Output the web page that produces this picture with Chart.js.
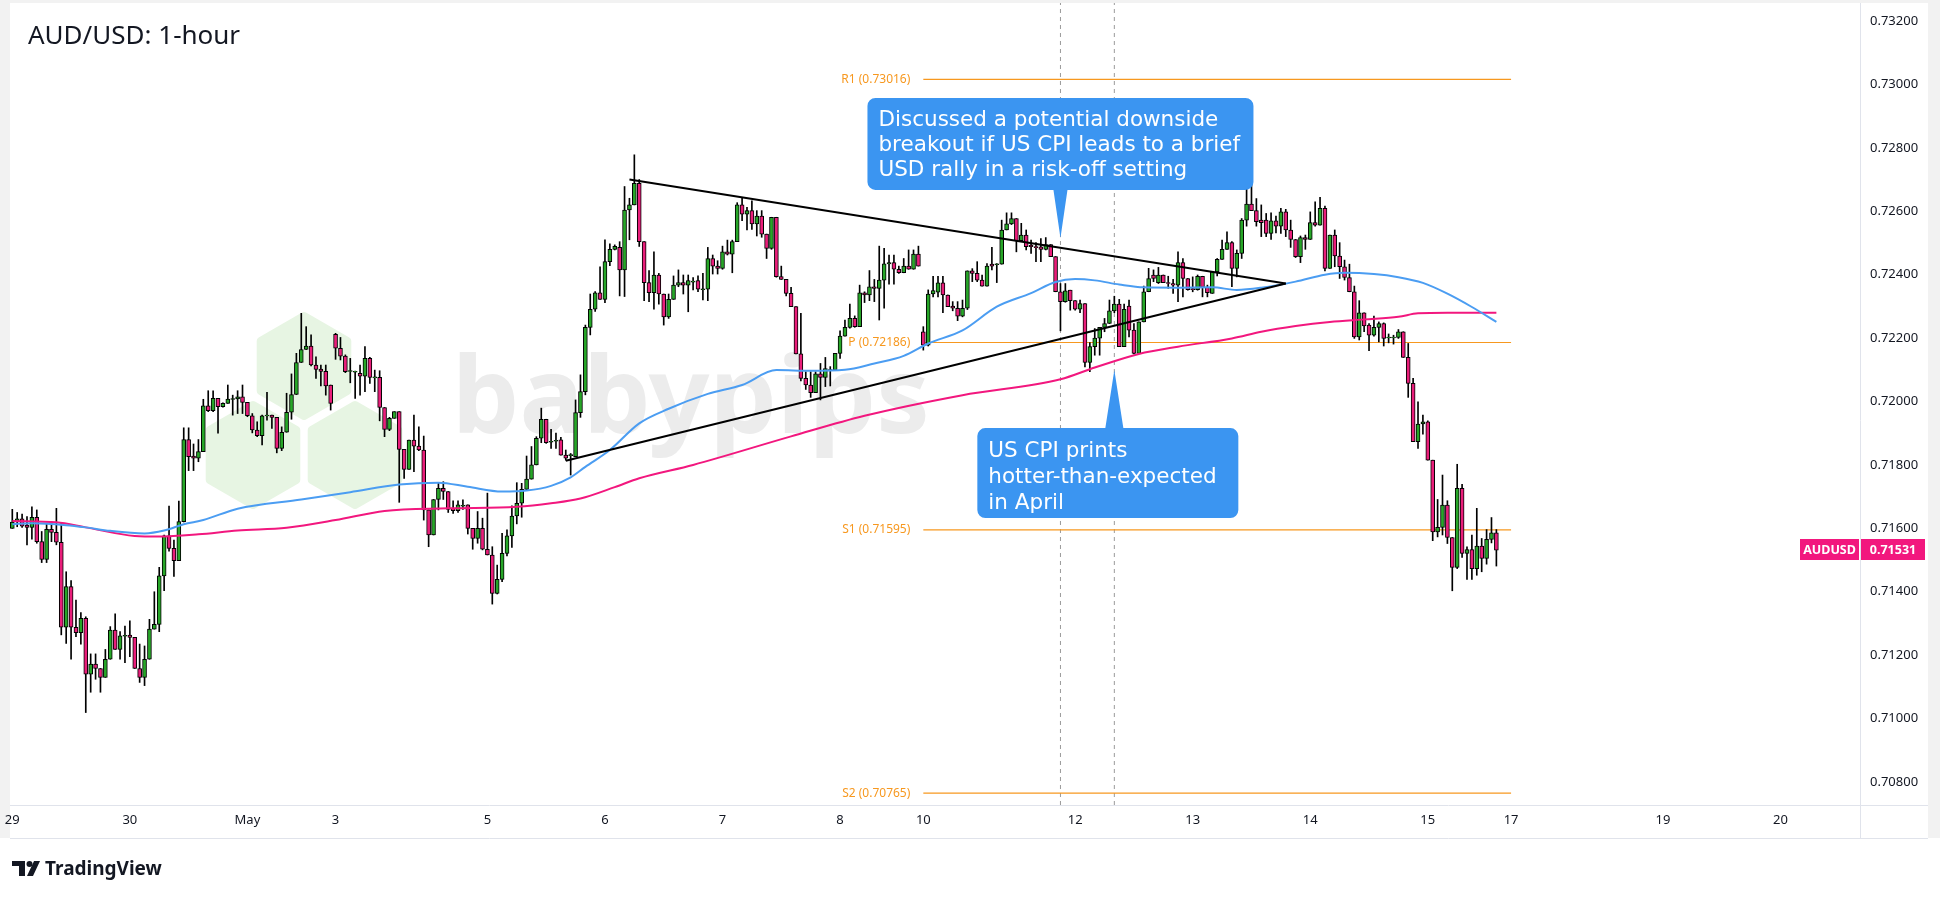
<!DOCTYPE html>
<html>
<head>
<meta charset="utf-8">
<title>AUD/USD: 1-hour</title>
<script src="https://cdn.jsdelivr.net/npm/chart.js@4.4.1/dist/chart.umd.min.js"></script>
<style>
  html, body { margin: 0; padding: 0; background: #fff; }
  #wrap { width: 1940px; height: 898px; }
</style>
</head>
<body>
<div id="wrap"><canvas id="chart" width="1940" height="898"></canvas></div>
<script>
// prices are written in pips (x 0.0001)
const PIP = 0.0001;

const opens = [
  7160,7162,7163,7161,7160.3,7163.5,7155.8,7150.2,7159.7,7158.7,
  7155.6,7128.8,7141.6,7128.8,7127.1,7131.6,7114,7117.2,7115.8,7113,
  7118.7,7127.9,7121.8,7126.1,7126.3,7125.6,7115.8,7113,7118.7,7128.2,
  7129.7,7145,7157.6,7153.7,7149.8,7162.1,7188,7182.8,7182.1,7184.2,
  7198.6,7197.1,7201,7198.4,7199.4,7200.8,7200.8,7201.5,7199.7,7195.5,
  7191,7189.2,7195.5,7195.7,7195,7185.2,7190.3,7196.6,7202.2,7212.3,
  7216.4,7217.5,7211.5,7210.2,7209.5,7205.2,7221.2,7216.8,7214.3,7209.6,
  7209.4,7208.9,7208,7213.6,7207.6,7207.6,7198.1,7191.2,7194.7,7196.8,
  7184.9,7178.6,7187.8,7185.9,7184.7,7165.8,7157.9,7169.1,7172.6,7171.6,
  7166.3,7165.6,7167.1,7167.4,7160,7156.8,7160,7153.4,7151.6,7139.5,
  7143.9,7152.1,7157.6,7163.9,7167.9,7172.3,7175.5,7180,7188.4,7194.4,
  7187.3,7187.6,7187.9,7183.1,7183.1,7182.6,7196.5,7203.1,7223.4,7229.1,
  7234.3,7232.2,7244.1,7248,7248.6,7241.5,7260.4,7262,7268.8,7250.4,
  7237.5,7234.3,7239.9,7233.9,7226.7,7232.2,7236.7,7237.5,7236.7,7237.8,
  7238.1,7235.4,7235.4,7245.1,7242.7,7242,7247.2,7246.5,7250.4,7262,
  7259.1,7260.2,7256,7258.5,7252.8,7248.3,7258.1,7239.4,7238.5,7234.1,
  7229.9,7215,7207.3,7205.2,7202.8,7208.7,7207.6,7209.9,7209.9,7215.2,
  7220.6,7223.4,7226.2,7223.6,7234.3,7233.6,7236.2,7235.7,7238.3,7243.4,
  7243.8,7241.7,7240.6,7242.7,7241.7,7246.5,7222,7217.8,7233.9,7234.5,
  7237.4,7233.6,7230.1,7229.4,7226.9,7229.4,7241.2,7240.4,7238.3,7236.4,
  7243.3,7243.3,7243.3,7254.1,7256,7257.7,7250.7,7252.5,7249.3,7248.8,
  7248.8,7248,7249.5,7245.7,7234.6,7231.5,7235.1,7231.8,7229.1,7230.9,
  7212.3,7217.3,7220,7223.4,7224.6,7228.6,7230.7,7217.3,7230.1,7222.5,
  7215.2,7225.1,7234.6,7239.9,7237.5,7239.9,7237.5,7237.2,7236.7,7243.8,
  7238.8,7235.6,7235.3,7239.5,7236,7234.1,7240.9,7244.8,7248,7250.1,
  7242,7246.7,7257.2,7262.3,7260.2,7257.2,7257.2,7253,7257,7255.3,
  7259.8,7254.1,7251.1,7245.7,7251.7,7251.1,7256.4,7255.6,7260.9,7242,
  7252.5,7245.9,7242.5,7239.1,7234.6,7220.4,7228,7224.1,7220.9,7223.4,
  7224.6,7220.2,7220.2,7220.2,7222,7213.9,7205.7,7187.3,7192.9,7193.6,
  7181.5,7158.9,7160.3,7167.3,7157.1,7147.7,7172.6,7152.1,7153.3,7147.3,
  7154.4,7150.5,7156.5,7158.6
];
const highs = [
  7166,7165,7164.5,7163.7,7166.8,7165.8,7159,7161.6,7162.1,7166.3,
  7161.6,7146.3,7143.5,7137.4,7133.4,7132.1,7120.4,7120.4,7115.8,7121.8,
  7129,7133,7127.4,7129.2,7130.8,7125.6,7123.5,7122.9,7131.3,7140,
  7147.7,7157.9,7167,7156.3,7168.6,7191.7,7191.7,7186.6,7188,7200.7,
  7203.4,7203.4,7201,7199.6,7205.2,7202,7203.4,7205.2,7199.7,7196.2,
  7193.6,7195.7,7202.9,7195.7,7195,7192,7202.6,7208.7,7215.2,7227.8,
  7223.6,7221,7214.1,7211.5,7211.5,7205.2,7221.5,7220.2,7214.7,7213.6,
  7209.6,7211.5,7217.3,7213.9,7209.9,7209.7,7198.1,7195,7196.8,7196.8,
  7184.9,7187.8,7195.7,7192,7189.1,7165.8,7169.1,7174.4,7174.7,7171.6,
  7168.7,7168.7,7169,7167.4,7160,7165.3,7163.2,7171.1,7154.2,7148.4,
  7158.4,7159.5,7167.1,7174.4,7174.2,7182.8,7185.8,7188.9,7197.9,7194.4,
  7191.2,7190,7188.7,7184.7,7183.6,7200.5,7208.4,7224.1,7233.9,7234.7,
  7242.5,7251,7249.7,7249.4,7250.4,7267.8,7264.1,7277.8,7270,7250.4,
  7241.3,7247.2,7240.4,7233.9,7233.9,7239.6,7241.5,7239.9,7239.9,7239.1,
  7239.6,7240.4,7248.6,7246.2,7244.4,7249,7250.9,7250.9,7262.7,7264.1,
  7261.2,7263.3,7260.2,7260.2,7252.8,7258.1,7258.1,7242.7,7238.5,7236,
  7229.9,7227.8,7209.4,7209.4,7209.4,7212,7213.9,7211,7215.2,7222.3,
  7225.7,7230.7,7227,7236.7,7234.6,7241.3,7238.5,7249,7248.3,7246.2,
  7246.2,7242.7,7245.1,7247.8,7247.8,7249,7223.6,7235.2,7239.5,7239.5,
  7239.5,7233.6,7231.5,7231.5,7232,7241.2,7241.9,7244.1,7239.9,7243.5,
  7248.6,7243.5,7257.2,7259.5,7259.5,7257.7,7256.2,7254.1,7250.9,7250.1,
  7251.4,7251.7,7249.5,7245.7,7237.2,7237.2,7235.1,7231.8,7232,7230.9,
  7218.6,7223,7223.4,7226.2,7232,7233.2,7232.2,7230.7,7232,7224.6,
  7225.1,7236.4,7242,7241.5,7242.3,7239.9,7239.5,7238.5,7247.2,7245.1,
  7238.8,7239.3,7239.9,7239.5,7236.7,7240.9,7245.1,7250.9,7253.5,7250.4,
  7247.8,7257.7,7271.7,7269.3,7264,7262,7259.3,7259.5,7258.5,7260.9,
  7260.6,7257.2,7251.1,7252.2,7252.5,7259.8,7263,7264.4,7261.6,7252.5,
  7254.1,7250.1,7244.6,7243.3,7236.4,7231.8,7228,7224.6,7226.9,7225.1,
  7224.8,7221.3,7220.9,7222.7,7222,7218.3,7207.3,7199.9,7195.7,7193.9,
  7181.5,7169.1,7176.8,7168.7,7157.1,7180.2,7173.9,7154.2,7157.9,7166.3,
  7156.8,7159.6,7163.4,7159.6
];
const lows = [
  7160,7160.5,7160.3,7154.8,7156.6,7155.3,7149.2,7149.2,7155.8,7154.8,
  7126.4,7123.7,7118.7,7125.8,7123.5,7101.9,7108.3,7112.4,7108.3,7113,
  7118.7,7121.8,7118.7,7117.6,7119.5,7115.8,7111.4,7110.4,7118.7,7128.2,
  7127.4,7140.3,7152.8,7144.8,7149.8,7162,7178.2,7178.2,7181,7184.2,
  7196.8,7196.8,7190,7198.2,7199.4,7195.7,7196.2,7196.2,7195.2,7190.1,
  7188.9,7186.3,7194.1,7191.5,7183.8,7184.5,7190.3,7194.4,7202.2,7212.3,
  7216.4,7211.2,7207.3,7204.9,7202,7197.3,7213.3,7213.1,7209.1,7205.9,
  7201,7202,7203.1,7205.7,7203.1,7193.9,7188.9,7190.8,7194.7,7168.2,
  7175.7,7178.6,7177.9,7184.5,7162.6,7154.2,7157.9,7165.8,7169.1,7165,
  7164.7,7165,7166,7158.2,7153.4,7155.3,7153.2,7151.6,7136.1,7139.3,
  7143.2,7151.3,7154,7161.4,7163.5,7172.1,7175.5,7180,7187,7186.8,
  7185.2,7185.2,7183.1,7181.5,7176.8,7182.6,7195,7202.1,7221,7228.4,
  7232.2,7231.2,7242.8,7247.8,7233.3,7233.1,7251,7262,7248.9,7231.8,
  7231.5,7229.1,7230.7,7224.1,7226.2,7232.2,7236.2,7233.9,7228.3,7235.2,
  7234.6,7232,7231.8,7240.2,7240.2,7241.7,7246.2,7240.6,7250.4,7257,
  7254.1,7254.3,7252.2,7251.8,7245.1,7248,7239.2,7238.5,7233.3,7229.9,
  7215,7206.5,7203.8,7201.3,7202.8,7200.5,7204.7,7204.9,7209.7,7213.6,
  7220.6,7223.1,7223.4,7223.6,7231.2,7231.8,7231.5,7225.7,7229.4,7237,
  7237,7240.4,7240.6,7241.7,7241.7,7242.7,7216.2,7217.5,7233,7233,
  7228,7229.9,7228.6,7225.5,7226.7,7229,7237.8,7237.8,7236.4,7236.4,
  7241.5,7237.5,7243.3,7254.1,7255.8,7247.2,7250.7,7247.8,7246.7,7244.1,
  7244.1,7247.8,7245.7,7234.6,7222.3,7231.3,7228.8,7228.8,7228,7210.9,
  7209.4,7214.6,7214.6,7222,7224.6,7228,7217.3,7217.3,7220.4,7215,
  7215.2,7225.1,7234.6,7237.8,7237.2,7237.5,7235.7,7234.1,7231.5,7233,
  7235.1,7234.6,7235.1,7233,7233,7234.1,7239.6,7244.8,7248,7236.2,
  7239.3,7245.1,7255.3,7260.2,7255.3,7252,7252,7251.1,7253.2,7253,
  7252,7248.6,7245.4,7243.8,7248,7251.1,7255.3,7255.6,7241.2,7242,
  7242.5,7238.8,7238.3,7234.6,7219.9,7219.4,7222,7216,7220.6,7218.8,
  7217.5,7218.5,7218.1,7219.9,7213.9,7201.3,7187.3,7185.2,7189.7,7181.5,
  7156.1,7157.3,7157.9,7155.2,7140.3,7147.3,7150.8,7143.9,7143.9,7145.2,
  7146.3,7148.7,7155.4,7148.1
];
const closes = [
  7162,7163,7160.7,7160.3,7163.5,7155.8,7150.2,7159.7,7158.7,7155.6,
  7128.8,7141.6,7128.8,7127.1,7131.6,7114,7117.2,7115.8,7113,7118.7,
  7127.9,7121.8,7126.1,7126.1,7125.6,7115.8,7113,7118.7,7128.2,7129.7,
  7145,7157.6,7153.7,7149.8,7162.1,7188,7182.6,7182.1,7184.2,7198.6,
  7197.1,7201,7198.4,7199.4,7200.8,7200.8,7201.5,7199.7,7195.5,7191,
  7189.2,7195.5,7195.7,7195,7185.2,7190.3,7196.6,7202.2,7212.3,7216.4,
  7217.5,7211.5,7210.1,7209.5,7204.9,7199.4,7216.8,7214.3,7209.4,7209.6,
  7209.4,7208,7213.6,7207.6,7207.6,7198.1,7191.2,7194.7,7196.8,7184.9,
  7178.6,7187.8,7185.9,7184.7,7165.8,7157.9,7169.1,7172.6,7171.6,7166,
  7165.6,7167.4,7167.1,7160,7156.8,7160,7153.4,7151.6,7139.5,7143.9,
  7152.1,7157.6,7163.9,7167.9,7172.3,7175.5,7180,7188.4,7194.4,7187,
  7187.3,7187.6,7183.1,7182.1,7183.1,7196.5,7203.1,7223.4,7229.1,7234.3,
  7232.2,7244.1,7248,7248.9,7241.5,7260.4,7262,7268.8,7250.4,7237.5,
  7234.3,7239.9,7233.9,7226.7,7232.2,7236.7,7237.5,7236.7,7238.1,7237.8,
  7235.4,7235.4,7245.1,7242.7,7242,7247.2,7246.5,7250.4,7262,7259.1,
  7260.2,7256,7258.5,7252.8,7248.3,7258.1,7239.4,7238.5,7234.1,7229.9,
  7215,7207.3,7205.2,7202.8,7208.7,7207.6,7210.4,7209.9,7215.2,7220.6,
  7223.4,7226.2,7223.6,7234.3,7233.6,7236.2,7235.7,7238.3,7243.4,7243.8,
  7241.7,7240.6,7242.7,7241.7,7246.5,7242.7,7217.8,7233.9,7235,7237.4,
  7233.6,7229.9,7229.4,7226.9,7229.4,7241.2,7240.4,7238.3,7236.4,7242.7,
  7242.7,7243.3,7254.1,7256,7257.7,7250.7,7252.5,7248.8,7248.8,7248.6,
  7248,7249.5,7245.7,7234.6,7231.5,7234.9,7231.8,7229.1,7230.9,7212.3,
  7217.3,7220,7223.4,7224.6,7228.6,7230.7,7217.3,7229.1,7222.5,7215.2,
  7225.1,7234.6,7238.8,7238.8,7239.9,7237.5,7237.2,7236.7,7243.8,7238.8,
  7235.3,7235.3,7239.5,7236,7234.3,7240.9,7244.8,7248,7250.1,7242,
  7246.7,7257.2,7262.3,7260.2,7256.7,7256.4,7253,7257,7255.3,7259.8,
  7254.1,7251.1,7245.7,7251.7,7251.1,7256.4,7255.6,7260.9,7242,7252.5,
  7245.9,7242.5,7239.1,7234.6,7220.4,7228,7223.8,7220.9,7223.4,7224.6,
  7219.9,7220.2,7220.2,7222,7213.9,7205.7,7187.3,7192.9,7193.6,7181.5,
  7158.9,7160.3,7167.3,7157.1,7147.7,7172.6,7152.1,7153.3,7147.3,7154.4,
  7150.5,7156.5,7158.6,7153.1
];

// moving averages (bar index, pips)
const ma100Bars = [0,4,11,15,20,27,31,35,39,46,59,69,79,87,93,100,105,110,114,117,122,128,134,142,149,156,163,170,176,182,187,194,201,208,213,217,221,226,231,238,245,250,255,262,268,272,278,283,288,293,298,303];
const ma100Values = [7161.3,7161.6,7161.0,7160.3,7159.2,7158.4,7159.3,7161.3,7162.6,7166.2,7169.1,7171.4,7173.8,7174.4,7173.1,7171.6,7171.9,7173.4,7176.1,7179.4,7184.7,7193.1,7197.7,7202.4,7205.2,7209.9,7209.7,7210.0,7212.0,7214.4,7218.3,7222.4,7229.9,7234.2,7237.7,7238.6,7238.2,7236.9,7236.0,7235.9,7236.0,7235.2,7235.9,7237.8,7240.0,7240.6,7240.2,7239.2,7237.4,7234.0,7229.8,7225.1];
const ma200Bars = [0,9,15,25,30,38,46,56,66,76,89,103,110,116,123,128,139,159,174,194,214,221,230,238,249,255,262,269,276,283,287,293,303];
const ma200Values = [7162.3,7161.9,7160.3,7157.6,7157.4,7158.1,7159.3,7160.2,7162.6,7165.5,7166.3,7166.8,7167.9,7169.4,7173.0,7175.8,7180.0,7189.0,7195.5,7202.0,7207.0,7210.7,7215.0,7217.3,7219.9,7222.0,7223.8,7225.1,7225.9,7226.7,7227.8,7228.0,7228.0];

// triangle drawn on the chart
const upperTrendBars = [126, 260];
const upperTrendValues = [7270.0, 7237.2];
const lowerTrendBars = [113, 260];
const lowerTrendValues = [7181.3, 7237.2];

// weekly pivots
const pivotNames = ['R1', 'P', 'S1', 'S2'];
const pivotValues = [0.73016, 0.72186, 0.71595, 0.70765];
const pivotBars = [186, 306];

// x axis day labels and the bar they sit on
const dayLabels = ['29','30','May','3','5','6','7','8','10','12','13','14','15','17','19','20'];
const dayBars = [0,24,48,66,97,121,145,169,186,217,241,265,289,306,337,361];
const priceTicks = [0.708,0.710,0.712,0.714,0.716,0.718,0.720,0.722,0.724,0.726,0.728,0.730,0.732];

// notes
const eventBars = [214, 225];
const notePrices = [0.72516, 0.72099];
const noteLines = [
  ['Discussed a potential downside', 'breakout if US CPI leads to a brief', 'USD rally in a risk-off setting'],
  ['US CPI prints', 'hotter-than-expected', 'in April']
];
const symbol = 'AUDUSD';
const title = 'AUD/USD: 1-hour';

const GREEN = '#27a628';
const PINK = '#e91e7a';
const BLUE_MA = '#4b9df2';
const PINK_MA = '#f2177e';
const ORANGE = '#f7981f';
const NOTE_BLUE = '#3b95f1';
const TEXT = '#131722';

const bars = opens.map((_, i) => i);
const toPts = (xs, ys) => xs.map((x, i) => ({ x: x, y: ys[i] * PIP }));

const wickData = bars.map(i => ({ x: i, y: [lows[i] * PIP, highs[i] * PIP] }));
const bodyData = bars.map(i => {
  let a = opens[i], b = closes[i];
  if (Math.abs(a - b) < 0.3) { const m = (a + b) / 2; a = m + 0.15; b = m - 0.15; }
  return { x: i, y: [a * PIP, b * PIP] };
});
const bodyColors = bars.map(i => closes[i] >= opens[i] ? GREEN : PINK);

const yMin = 0.707274, yMax = 0.732568;

function seg(data, color, width, order, dash) {
  return { type: 'line', data: data, borderColor: color, borderWidth: width, pointRadius: 0,
           borderDash: dash || [], order: order, tension: 0 };
}

const datasets = [
  { type: 'line', data: toPts(ma100Bars, ma100Values), borderColor: BLUE_MA, borderWidth: 2,
    pointRadius: 0, cubicInterpolationMode: 'monotone', order: 0 },
  { type: 'line', data: toPts(ma200Bars, ma200Values), borderColor: PINK_MA, borderWidth: 2,
    pointRadius: 0, cubicInterpolationMode: 'monotone', order: 0 },
  seg(toPts(upperTrendBars, upperTrendValues), '#000', 2, -1),
  seg(toPts(lowerTrendBars, lowerTrendValues), '#000', 2, -1),
  { type: 'bar', data: bodyData, backgroundColor: bodyColors, borderColor: '#000', borderWidth: 1,
    borderSkipped: false, barThickness: 4, grouped: false, order: 1 },
  { type: 'bar', data: wickData, backgroundColor: '#000', borderWidth: 0,
    barThickness: 1, grouped: false, order: 2 }
];
pivotValues.forEach(v => {
  datasets.push(seg(pivotBars.map(b => ({ x: b, y: v })), ORANGE, 1.2, 3));
});
eventBars.forEach(b => {
  datasets.push(seg([{ x: b, y: yMin }, { x: b, y: yMax }], '#9a9a9a', 1, 4, [4, 4]));
});

function roundBox(ctx, x, y, w, h, r, tip, side) {
  ctx.beginPath();
  ctx.moveTo(x + r, y);
  if (side === 'top') { ctx.lineTo(tip.x - 9, y); ctx.lineTo(tip.x, tip.y); ctx.lineTo(tip.x + 9, y); }
  ctx.lineTo(x + w - r, y);
  ctx.arcTo(x + w, y, x + w, y + r, r);
  ctx.lineTo(x + w, y + h - r);
  ctx.arcTo(x + w, y + h, x + w - r, y + h, r);
  if (side === 'bottom') { ctx.lineTo(tip.x + 7, y + h); ctx.lineTo(tip.x, tip.y); ctx.lineTo(tip.x - 7, y + h); }
  ctx.lineTo(x + r, y + h);
  ctx.arcTo(x, y + h, x, y + h - r, r);
  ctx.lineTo(x, y + r);
  ctx.arcTo(x, y, x + r, y, r);
  ctx.closePath();
  ctx.fill();
}

function hexagon(ctx, cx, cy, r) {
  ctx.beginPath();
  for (let k = 0; k < 6; k++) {
    const a = Math.PI / 180 * (60 * k - 90);
    const px = cx + r * Math.cos(a), py = cy + r * Math.sin(a);
    if (k === 0) ctx.moveTo(px, py); else ctx.lineTo(px, py);
  }
  ctx.closePath();
  ctx.fill();
  ctx.stroke();
}

const decor = {
  id: 'decor',
  beforeDraw(chart) {
    const ctx = chart.ctx, a = chart.chartArea;
    const right = chart.scales.y.right, bottom = chart.scales.x.bottom;
    ctx.save();
    ctx.fillStyle = '#ffffff';
    ctx.fillRect(0, 0, chart.width, chart.height);
    ctx.fillStyle = '#f2f2f2';
    ctx.fillRect(0, 0, chart.width, a.top);
    ctx.fillRect(0, 0, a.left, bottom);
    ctx.fillRect(right, 0, chart.width - right, bottom);

    // watermark: hexagons + babypips
    ctx.fillStyle = '#e7f5e3';
    ctx.strokeStyle = '#e7f5e3';
    ctx.lineWidth = 8;
    ctx.lineJoin = 'round';
    hexagon(ctx, 304, 366, 50);
    hexagon(ctx, 253, 455, 50);
    hexagon(ctx, 355, 455, 50);
    ctx.font = 'bold 100px "Noto Sans"';
    const w = ctx.measureText('babypips').width;
    ctx.font = 'bold ' + (100 * 478 / w).toFixed(1) + 'px "Noto Sans"';
    ctx.fillStyle = '#ececec';
    ctx.textBaseline = 'alphabetic';
    ctx.fillText('babypips', 452, 433);
    ctx.restore();
  },
  afterDatasetsDraw(chart) {
    const ctx = chart.ctx, xs = chart.scales.x, ys = chart.scales.y, a = chart.chartArea;
    ctx.save();

    // pivot labels
    ctx.font = '12px "Noto Sans"';
    ctx.fillStyle = ORANGE;
    ctx.textAlign = 'right';
    ctx.textBaseline = 'middle';
    pivotValues.forEach((v, i) => {
      ctx.fillText(pivotNames[i] + ' (' + v.toFixed(5) + ')', xs.getPixelForValue(pivotBars[0]) - 13, ys.getPixelForValue(v));
    });

    // notes
    const t1 = { x: xs.getPixelForValue(eventBars[0]), y: ys.getPixelForValue(notePrices[0]) };
    const t2 = { x: xs.getPixelForValue(eventBars[1]), y: ys.getPixelForValue(notePrices[1]) };
    ctx.fillStyle = NOTE_BLUE;
    const b1 = { x: t1.x - 193, y: t1.y - 140, w: 386, h: 92 };
    const b2 = { x: t2.x - 137, y: t2.y + 58, w: 261, h: 90 };
    roundBox(ctx, b1.x, b1.y, b1.w, b1.h, 8, t1, 'bottom');
    roundBox(ctx, b2.x, b2.y, b2.w, b2.h, 8, t2, 'top');
    ctx.fillStyle = '#ffffff';
    ctx.textAlign = 'left';
    ctx.textBaseline = 'alphabetic';
    ctx.font = '21.5px "DejaVu Sans"';
    noteLines[0].forEach((s, i) => ctx.fillText(s, b1.x + 11, b1.y + 28 + i * 25));
    noteLines[1].forEach((s, i) => ctx.fillText(s, b2.x + 11, b2.y + 29 + i * 26));

    // axis borders
    ctx.strokeStyle = '#e0e3eb';
    ctx.lineWidth = 1;
    ctx.beginPath();
    ctx.moveTo(a.left, a.bottom + 0.5); ctx.lineTo(ys.right, a.bottom + 0.5);
    ctx.moveTo(a.right + 0.5, a.top); ctx.lineTo(a.right + 0.5, xs.bottom);
    ctx.moveTo(a.left, xs.bottom + 0.5); ctx.lineTo(ys.right, xs.bottom + 0.5);
    ctx.stroke();

    // last price tags
    const last = closes[closes.length - 1] * PIP;
    const ly = Math.round(ys.getPixelForValue(last));
    ctx.fillStyle = PINK_MA;
    ctx.fillRect(a.right - 60, ly - 11, 59, 21);
    ctx.fillRect(a.right + 1, ly - 11, 64, 21);
    ctx.fillStyle = '#ffffff';
    ctx.font = 'bold 12.5px "Noto Sans"';
    ctx.textAlign = 'center';
    ctx.textBaseline = 'middle';
    ctx.fillText(symbol, a.right - 30.5, ly);
    ctx.fillText(last.toFixed(5), a.right + 33, ly);

    // title
    ctx.fillStyle = TEXT;
    ctx.textAlign = 'left';
    ctx.textBaseline = 'alphabetic';
    ctx.font = '26px "Noto Sans"';
    ctx.fillText(title, 28, 44);

    // TradingView logo
    ctx.fillStyle = TEXT;
    ctx.fillRect(12, 861, 13, 5);
    ctx.fillRect(19, 861, 6, 15);
    ctx.beginPath(); ctx.arc(29.5, 864, 3, 0, Math.PI * 2); ctx.fill();
    ctx.beginPath();
    ctx.moveTo(34, 861); ctx.lineTo(40, 861); ctx.lineTo(33, 876); ctx.lineTo(27, 876);
    ctx.closePath(); ctx.fill();
    ctx.font = 'bold 19px "Noto Sans"';
    ctx.fillText('TradingView', 45, 875);
    ctx.restore();
  }
};

Chart.defaults.font.family = '"Noto Sans", sans-serif';
Chart.defaults.font.size = 13;
Chart.defaults.color = TEXT;

new Chart(document.getElementById('chart'), {
  type: 'bar',
  data: { datasets: datasets },
  options: {
    responsive: false,
    animation: false,
    events: [],
    devicePixelRatio: 1,
    layout: { padding: { left: 10, top: 3, right: 12, bottom: 60 } },
    plugins: { legend: { display: false }, tooltip: { enabled: false } },
    scales: {
      x: {
        type: 'linear',
        min: -0.47,
        max: 377.24,
        offset: false,
        grid: { display: false, drawTicks: false },
        border: { display: false },
        afterBuildTicks: s => { s.ticks = dayBars.map(v => ({ value: v })); },
        afterFit: s => { s.height = 33; s.paddingLeft = 0; s.paddingRight = 0; },
        ticks: {
          autoSkip: false, maxRotation: 0, padding: 7, color: TEXT,
          callback: (v, i) => dayLabels[i]
        }
      },
      y: {
        type: 'linear',
        position: 'right',
        min: yMin,
        max: yMax,
        grid: { display: false, drawTicks: false },
        border: { display: false },
        afterBuildTicks: s => { s.ticks = priceTicks.map(v => ({ value: v })); },
        afterFit: s => { s.width = 68; s.paddingTop = 0; s.paddingBottom = 0; },
        ticks: { padding: 10, color: TEXT, callback: v => v.toFixed(5) }
      }
    }
  },
  plugins: [decor]
});
</script>
</body>
</html>
